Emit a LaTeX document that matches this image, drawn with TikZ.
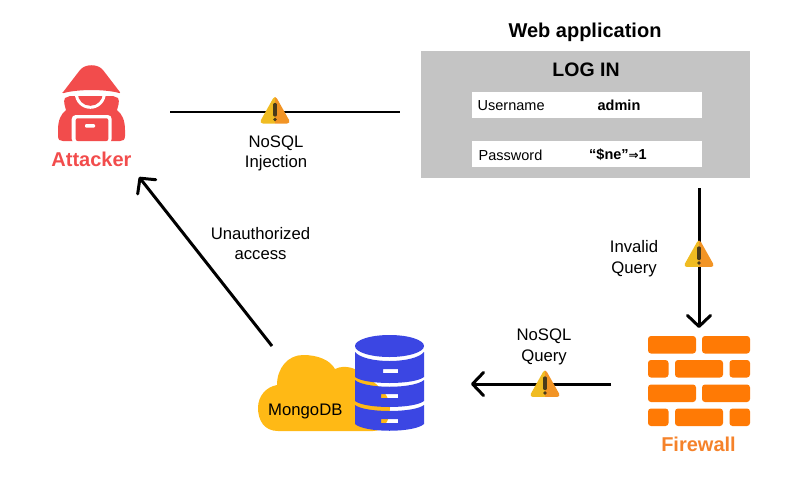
\documentclass[tikz,border=0pt]{standalone}
\usepackage{fontspec}
\setmainfont{Liberation Sans}
\newfontfamily\arrowfont{DejaVu Sans}
\usetikzlibrary{arrows.meta}
\definecolor{attackred}{HTML}{F24C4C}
\definecolor{brickorange}{HTML}{FF7A05}
\definecolor{firetext}{HTML}{F5822A}
\definecolor{dbblue}{HTML}{3B46E3}
\definecolor{cloudyellow}{HTML}{FFB915}
\definecolor{formgray}{HTML}{C4C4C4}
\definecolor{warnyellow}{HTML}{F0BC22}
\definecolor{warnorange}{HTML}{F29425}
\definecolor{warnmark}{HTML}{4A3B1A}
\tikzset{
  label/.style={align=center,inner sep=0pt,font=\fontsize{16.7}{20.5}\selectfont},
  fieldtext/.style={inner sep=0pt,font=\fontsize{14.5}{18}\selectfont},
  fieldvalue/.style={inner sep=0pt,font=\fontsize{14.5}{18}\selectfont\bfseries},
  title/.style={inner sep=0pt,font=\fontsize{20}{24}\selectfont\bfseries},
  field/.style={fill=white,minimum width=230pt,minimum height=26pt,inner sep=0pt},
  flow/.style={line width=3pt,-{Straight Barb[length=11pt,width=23pt,line width=3pt,round]}},
  brick/.style={fill=brickorange,rounded corners=3pt},
  warnsign/.pic={
    \begin{scope}
    \clip[rounded corners=4pt] (0,-16) -- (16,12.5) -- (-16,12.5) -- cycle;
    \fill[warnyellow] (-16,-16) rectangle (0,12.5);
    \fill[warnorange] (0,-16) rectangle (16,12.5);
    \end{scope}
    \draw[warnmark,line width=3.2pt,line cap=round] (0,-6.5) -- (0,4);
    \fill[warnmark] (0,8.5) circle (1.8);
  }
}
\begin{document}
\begin{tikzpicture}[x=1pt,y=-1pt]
\useasboundingbox (0,0) rectangle (800,480);
% attacker
\fill[attackred] (65,98) .. controls (63,102) and (65,106) .. (66,110)
 .. controls (61,114) and (58,120) .. (58,130) -- (58,136) .. controls (58,140) and (60,141) .. (63,141)
 -- (120,141) .. controls (123,141) and (125,140) .. (125,136) -- (125,130)
 .. controls (125,120) and (122,114) .. (117,110) .. controls (118,106) and (120,102) .. (118,98)
 -- (108,94) -- (75,94) -- cycle;
\fill[white] (90.3,93.3) circle (15.5);
\fill[attackred] (90.3,93.3) circle (12.5);
\fill[white] (60,89) rectangle (123,96);
\fill[attackred,rounded corners=1.5pt] (62,93.5) -- (80,70) .. controls (86,64) and (97,64) .. (103,70) -- (121,93.5)
 .. controls (105,89) and (78,89) .. cycle;
\fill[white,rounded corners=4pt] (71.7,115) rectangle (111.7,143);
\fill[attackred,rounded corners=2pt] (75.7,118.3) rectangle (108.3,141);
\fill[white,rounded corners=1pt] (85,124) rectangle (95,127.5);
\node[title,text=attackred] (attacker) at (91.5,159) {Attacker};
% web application
\node[title] (webtitle) at (585,32) {Web application};
\node[fill=formgray,minimum width=329pt,minimum height=127pt,inner sep=0pt] (webapp) at (585.5,114.5) {};
\node[title,font=\fontsize{19.5}{24}\selectfont\bfseries] (login) at (586,70) {LOG IN};
\node[field] (userfield) at (587,105) {};
\node[field] (passfield) at (587,154) {};
\node[fieldtext,anchor=west] (username) at (477.5,106) {Username};
\node[fieldvalue] (admin) at (619,105.5) {admin};
\node[fieldtext,anchor=west] (password) at (478.5,155) {Password};
\node[fieldvalue] (passvalue) at (618,154.5) {“\$ne”{\arrowfont\fontsize{12}{18}\selectfont ⇒}1};
% firewall
\foreach \y in {336,384.5}{
  \fill[brick] (648,\y) rectangle (696,\y+17.5);
  \fill[brick] (702,\y) rectangle (750,\y+17.5);
}
\foreach \y in {360,408.5}{
  \fill[brick] (648,\y) rectangle (668.5,\y+17.5);
  \fill[brick] (675,\y) rectangle (723,\y+17.5);
  \fill[brick] (729.5,\y) rectangle (750,\y+17.5);
}
\node[title,text=firetext] (firewall) at (698.5,444) {Firewall};
% mongodb
\fill[cloudyellow] (278,431) .. controls (264,431) and (258,420) .. (258,408)
 .. controls (258,396) and (266,387) .. (277,385)
 .. controls (277,368) and (288,355) .. (303,355)
 .. controls (318,355) and (330,360) .. (335,369)
 .. controls (345,364) and (358,368) .. (368,378)
 .. controls (380,386) and (390,396) .. (390,408)
 .. controls (390,420) and (384,431) .. (373,431) -- cycle;
\fill[dbblue] (389.5,346) ellipse (34.5 and 11);
\fill[dbblue,even odd rule] (355,352) .. controls (365,364) and (414,364) .. (424,352) -- (424,377)
 .. controls (414,385) and (365,385) .. (355,377) -- cycle
 (383,369) rectangle (398,373);
\fill[dbblue,even odd rule] (355,380) .. controls (365,389) and (414,389) .. (424,380) -- (424,401)
 .. controls (414,409) and (365,409) .. (355,401) -- cycle
 (381,394) rectangle (398,398);
\fill[dbblue,even odd rule] (355,405) .. controls (365,413) and (414,413) .. (424,405) -- (424,424)
 .. controls (414,433) and (365,433) .. (355,424) -- cycle
 (381,419) rectangle (398,423);
\node[label,anchor=west] (mongodb) at (268,411.5) {MongoDB};
% connectors
\coordinate (injectfrom) at (170,112);
\coordinate (injectto) at (400,112);
\coordinate (webout) at (699,188);
\coordinate (firein) at (699,328);
\coordinate (fireout) at (611,384);
\coordinate (mongoin) at (471,384);
\coordinate (mongoout) at (272,346);
\coordinate (attackin) at (139,177);
\draw[line width=2pt] (injectfrom) -- (injectto);
\draw[flow] (webout) -- (firein);
\draw[flow] (fireout) -- (mongoin);
\draw[flow] (mongoout) -- (attackin);
\pic at (275,111) {warnsign};
\pic at (699,254.5) {warnsign};
\pic at (545,384.5) {warnsign};
\node[label] (injectlabel) at (276,153.5) {NoSQL\\Injection};
\node[label] (accesslabel) at (260.5,243.5) {Unauthorized\\access};
\node[label] (invalidlabel) at (634,258.5) {Invalid\\Query};
\node[label] (querylabel) at (544,347) {NoSQL\\Query};
\end{tikzpicture}
\end{document}
